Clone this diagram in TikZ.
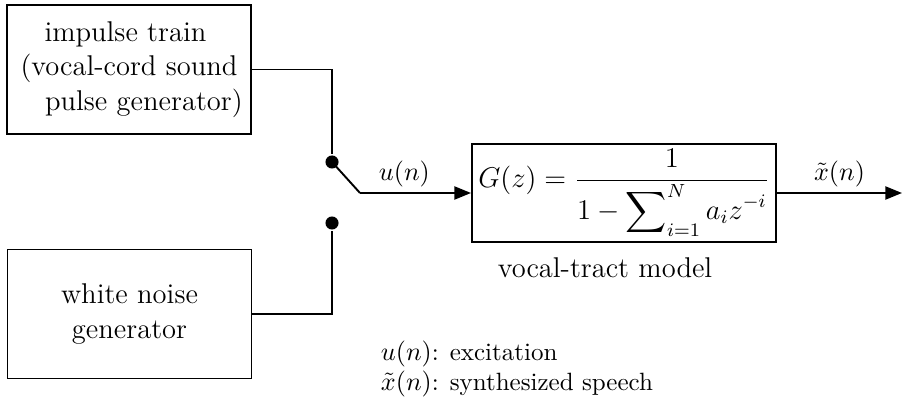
\documentclass[12pt,tikz,border=0pt]{standalone}
\usepackage{amsmath}
\usetikzlibrary{arrows.meta,positioning}

\begin{document}
\begin{tikzpicture}[
 x=0.42pt,y=-0.42pt,
 line width=0.8pt,
 box/.style={draw,align=center,minimum width=102.5pt,minimum height=54.2pt,inner sep=2pt},
 dot/.style={circle,fill,inner sep=0pt,minimum size=5.5pt},
 arrow/.style={-{Triangle[length=7pt,width=5.5pt]}},
 lbl/.style={font=\small,inner sep=1pt},
 legend/.style={font=\fontsize{10.5}{12.5}\selectfont,inner sep=0pt,anchor=base west}
]
\useasboundingbox (0,0) rectangle (902,406);
% sources
\node[box] (pulse) at (129,69.5) {impulse train\hspace*{3pt}\\(vocal-cord sound\hspace*{7.5pt}\\\hspace*{12.5pt}pulse generator)};
\node[box] (noise) at (129.5,314) {white noise\\generator};
% switch
\node[dot] (swa) at (332,162) {};
\node[dot] (swb) at (332,223) {};
\coordinate (pivot) at (360,193);
% filter
\node[box,minimum width=127.7pt,minimum height=41.2pt,inner sep=1pt] (filt) at (624,193) {$\displaystyle G(z)=\frac{1}{\displaystyle 1-\sum\nolimits_{i=1}^{N}a_iz^{-i}}$};
\coordinate (out) at (902,193);
\node[anchor=base] (tract) at (605,277) {vocal-tract model};
% legend
\node[legend] (lega) at (380,360) {$u(n)$: excitation};
\node[legend] (legb) at (380,390) {$\tilde{x}(n)$: synthesized speech};
\draw (pulse.east) -| (swa);
\draw (noise.east) -| (swb);
\draw (swa.center) -- (pivot);
\draw[arrow] (pivot) -- node[lbl,above=1pt,pos=0.4] {$u(n)$} (filt);
\draw[arrow] (filt) -- node[lbl,above=1pt] {$\tilde{x}(n)$} (out);
\end{tikzpicture}
\end{document}
